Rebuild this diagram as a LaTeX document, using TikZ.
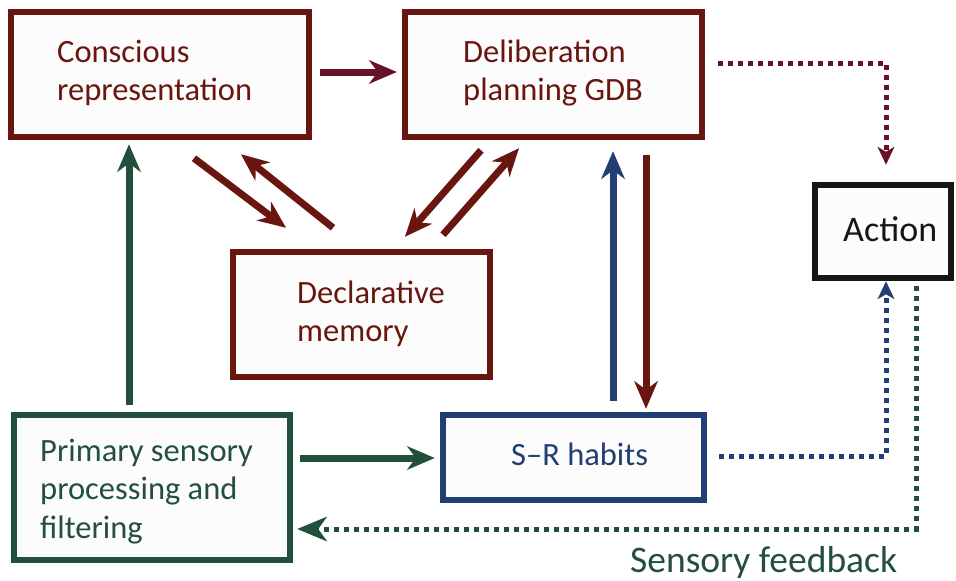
\documentclass[tikz,border=0pt]{standalone}
\usepackage{fontspec}
\setmainfont{Carlito}
\usetikzlibrary{arrows.meta}
\definecolor{cMar}{HTML}{6A1610}
\definecolor{cMarP}{HTML}{66132A}
\definecolor{cGrn}{HTML}{23503B}
\definecolor{cBlu}{HTML}{213F72}
\definecolor{cBlk}{HTML}{161616}
\definecolor{cFill}{HTML}{FCFCFC}
\begin{document}
\begin{tikzpicture}[x=1pt,y=-1pt,
  box/.style={draw=#1, line width=6.5pt, fill=cFill, rectangle, inner sep=0pt},
  lbl/.style={anchor=base west, align=left, font=\fontsize{32.5}{38.5}\selectfont, text=#1, inner sep=0pt},
  sarr/.style={draw=#1, line width=7pt, -{Stealth[length=28pt,width=24pt,inset=9pt,line width=0pt]}},
  darr/.style={draw=#1, line width=5pt, dash pattern=on 5pt off 5pt, -{Stealth[length=18pt,width=17pt,inset=5pt,line width=0pt]}},
  darrbig/.style={draw=#1, line width=5pt, dash pattern=on 5pt off 5pt, -{Stealth[length=30pt,width=25pt,inset=9pt,line width=0pt]}},
]
\fill[white] (0,0) rectangle (956,581);
\useasboundingbox (0,0) rectangle (956,581);

% boxes
\node[box=cMar, minimum width=298pt, minimum height=125pt] (cons) at (160,74.5) {};
\node[box=cMar, minimum width=297pt, minimum height=125pt] (delib) at (553.5,74.5) {};
\node[box=cMar, minimum width=257pt, minimum height=125pt] (decl) at (361.5,314.5) {};
\node[box=cBlk, minimum width=136pt, minimum height=93pt] (act) at (883,231.5) {};
\node[box=cGrn, minimum width=276pt, minimum height=145pt] (prim) at (152,487.5) {};
\node[box=cBlu, minimum width=261pt, minimum height=85pt] (sr) at (573.5,457.5) {};

% labels (base anchor = last line baseline)
\node[lbl=cMar] (consT) at (57,100.5) {Conscious\\representation};
\node[lbl=cMar] (delibT) at (463,100.5) {Deliberation\\planning GDB};
\node[lbl=cMar] (declT) at (297,341.5) {Declarative\\memory};
\node[lbl=cBlk, font=\fontsize{36}{43}\selectfont] (actT) at (843,241) {Action};
\node[lbl=cGrn] (primT) at (40,538) {Primary sensory\\processing and\\filtering};
\node[lbl=cBlu] (srT) at (511,465) {S\textendash R habits};
\node[anchor=base west, inner sep=0pt, text=cGrn, font=\fontsize{37.5}{45}\selectfont] (fb) at (630,572) {Sensory feedback};

% solid connectors
\draw[sarr=cMarP] ([xshift=8pt]cons.east |- 0,72) -- ([xshift=-5pt]delib.west |- 0,72);
\draw[sarr=cMar] ([shift={(34,18)}]cons.south) -- ([shift={(-75.5,-21)}]decl.north);
\draw[sarr=cMar] ([shift={(-28.5,-21)}]decl.north) -- ([shift={(81,14)}]cons.south);
\draw[sarr=cMar] ([shift={(-72.5,10)}]delib.south) -- ([shift={(43.5,-12)}]decl.north);
\draw[sarr=cMar] ([shift={(81.5,-14)}]decl.north) -- ([shift={(-34.5,8)}]delib.south);
\draw[sarr=cBlu] ([shift={(39.5,-11)}]sr.north) -- ([shift={(59.5,11)}]delib.south);
\draw[sarr=cMar] ([shift={(92.5,15)}]delib.south) -- ([shift={(72.5,-3)}]sr.north);
\draw[sarr=cGrn] ([shift={(-23,-7)}]prim.north) -- ([shift={(-31,4)}]cons.south);
\draw[sarr=cGrn] ([xshift=7pt]prim.east |- 0,458) -- ([xshift=-5pt]sr.west |- 0,458);

% dotted connectors
\draw[darr=cMarP] ([xshift=13pt]delib.east |- 0,63) -| ([shift={(3,-17)}]act.north);
\draw[darr=cBlu] ([xshift=12pt]sr.east |- 0,456) -| ([xshift=3pt]act.south);
\draw[darrbig=cGrn] ([shift={(33,5)}]act.south) |- ([xshift=4pt]prim.east |- 0,529);
\end{tikzpicture}
\end{document}
